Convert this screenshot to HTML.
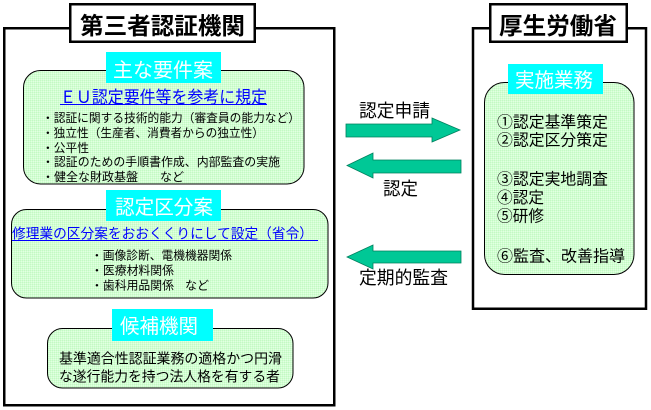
<!DOCTYPE html>
<html><head><meta charset="utf-8"><style>
html,body{margin:0;padding:0;background:#fff;}
svg{display:block;font-family:"Liberation Sans","Noto Sans CJK JP",sans-serif;}
</style></head><body>
<svg width="651" height="410" viewBox="0 0 651 410" xmlns="http://www.w3.org/2000/svg">
<defs>
<pattern id="g" width="2" height="2" patternUnits="userSpaceOnUse">
<rect width="2" height="2" fill="#d2ffd2"/>
<rect width="1" height="1" fill="#c4f8c4"/>
<rect x="1" y="1" width="1" height="1" fill="#e2ffe2"/>
</pattern>
</defs>
<!-- Left outer box -->
<rect x="4.25" y="28.25" width="330" height="377" fill="#fff" stroke="#000" stroke-width="2.5"/>
<rect x="70.25" y="4.25" width="184.5" height="37.5" fill="#fff" stroke="#000" stroke-width="2.5"/>
<text x="80" y="34" font-size="23.5" font-weight="bold" textLength="165" lengthAdjust="spacingAndGlyphs">第三者認証機関</text>

<!-- Right outer box -->
<rect x="473" y="28.25" width="173" height="280.5" fill="#fff" stroke="#000" stroke-width="2.5"/>
<rect x="490.25" y="4.25" width="136.5" height="37.5" fill="#fff" stroke="#000" stroke-width="2.5"/>
<text x="499" y="34" font-size="23.5" font-weight="bold" textLength="118" lengthAdjust="spacingAndGlyphs">厚生労働省</text>

<!-- Box 1 -->
<rect x="23.5" y="70.5" width="280.5" height="113.5" rx="17" ry="17" fill="url(#g)" stroke="#000" stroke-width="1"/>
<rect x="106" y="52" width="115" height="31" fill="#00ffff"/>
<text x="113" y="77" font-size="20" fill="#fff" textLength="100" lengthAdjust="spacingAndGlyphs">主な要件案</text>
<text x="60" y="103" font-size="17" fill="#0000ff" textLength="207" lengthAdjust="spacingAndGlyphs">ＥＵ認定要件等を参考に規定</text>
<line x1="60" y1="104.5" x2="267" y2="104.5" stroke="#0000ff" stroke-width="1"/>
<g font-size="12">
<text x="42" y="122" textLength="258" lengthAdjust="spacingAndGlyphs">・認証に関する技術的能力（審査員の能力など）</text>
<text x="42" y="137" textLength="222" lengthAdjust="spacingAndGlyphs">・独立性（生産者、消費者からの独立性）</text>
<text x="42" y="152" textLength="47" lengthAdjust="spacingAndGlyphs">・公平性</text>
<text x="42" y="166" textLength="238" lengthAdjust="spacingAndGlyphs">・認証のための手順書作成、内部監査の実施</text>
<text x="42" y="181">・健全な財政基盤</text>
<text x="160" y="181">など</text>
</g>

<!-- Box 2 -->
<rect x="11.5" y="209.5" width="316.5" height="88.5" rx="15" ry="15" fill="url(#g)" stroke="#000" stroke-width="1"/>
<rect x="106" y="190" width="115" height="31" fill="#00ffff"/>
<text x="115" y="214" font-size="20" fill="#fff" textLength="98" lengthAdjust="spacingAndGlyphs">認定区分案</text>
<text x="12" y="238.5" font-size="14" fill="#0000ff" textLength="301" lengthAdjust="spacingAndGlyphs">修理業の区分案をおおくくりにして設定（省令）</text>
<line x1="12" y1="240.5" x2="318" y2="240.5" stroke="#0000ff" stroke-width="1"/>
<g font-size="12">
<text x="91" y="259.5" textLength="141" lengthAdjust="spacingAndGlyphs">・画像診断、電機機器関係</text>
<text x="91" y="274.5" textLength="83" lengthAdjust="spacingAndGlyphs">・医療材料関係</text>
<text x="91" y="289.5" textLength="83" lengthAdjust="spacingAndGlyphs">・歯科用品関係</text>
<text x="185" y="289.5">など</text>
</g>

<!-- Box 3 -->
<rect x="47.5" y="328.5" width="245.5" height="59.5" rx="15" ry="15" fill="url(#g)" stroke="#000" stroke-width="1"/>
<rect x="112" y="309" width="101" height="32" fill="#00ffff"/>
<text x="120" y="333" font-size="20" fill="#fff" textLength="78" lengthAdjust="spacingAndGlyphs">候補機関</text>
<g font-size="14">
<text x="59" y="363.5" textLength="223" lengthAdjust="spacingAndGlyphs">基準適合性認証業務の適格かつ円滑</text>
<text x="59" y="381.5" textLength="221" lengthAdjust="spacingAndGlyphs">な遂行能力を持つ法人格を有する者</text>
</g>

<!-- Right green box -->
<rect x="484.5" y="82.5" width="149.5" height="192" rx="20" ry="20" fill="url(#g)" stroke="#000" stroke-width="1"/>
<rect x="508" y="64" width="95" height="30" fill="#00ffff"/>
<text x="515" y="87" font-size="20" fill="#fff" textLength="78" lengthAdjust="spacingAndGlyphs">実施業務</text>
<g font-size="16">
<text x="497" y="127.5" textLength="111" lengthAdjust="spacingAndGlyphs">①認定基準策定</text>
<text x="497" y="145.5" textLength="111" lengthAdjust="spacingAndGlyphs">②認定区分策定</text>
<text x="497" y="184.5" textLength="111" lengthAdjust="spacingAndGlyphs">③認定実地調査</text>
<text x="497" y="203" textLength="47" lengthAdjust="spacingAndGlyphs">④認定</text>
<text x="497" y="221.5" textLength="47" lengthAdjust="spacingAndGlyphs">⑤研修</text>
<text x="497" y="261.5" textLength="128" lengthAdjust="spacingAndGlyphs">⑥監査、改善指導</text>
</g>

<!-- Arrows -->
<g fill="#00c896" stroke="#00805e" stroke-width="0.8">
<polygon points="346,124 432,124 432,118 460,130 432,142 432,137 346,137"/>
<polygon points="461,160 373,160 373,153 347,165.5 373,178 373,173 461,173"/>
<polygon points="461,251 373,251 373,245 347,257 373,269 373,263 461,263"/>
</g>
<g font-size="18">
<text x="359" y="117" textLength="71" lengthAdjust="spacingAndGlyphs">認定申請</text>
<text x="383" y="195" textLength="35" lengthAdjust="spacingAndGlyphs">認定</text>
<text x="359" y="284" textLength="89" lengthAdjust="spacingAndGlyphs">定期的監査</text>
</g>
</svg>
</body></html>
